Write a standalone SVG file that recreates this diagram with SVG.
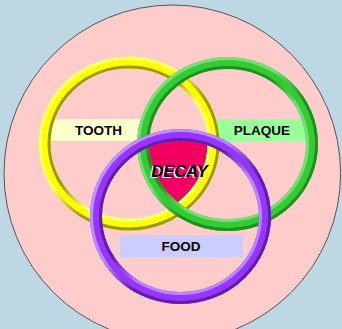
<svg xmlns="http://www.w3.org/2000/svg" width="342" height="329" viewBox="0 0 342 329">
<style>
.lbl{font-family:"Liberation Sans",Arial,sans-serif;font-weight:bold;font-size:13.5px;fill:#000;text-anchor:middle}
.decay{font-family:"Liberation Sans",Arial,sans-serif;font-weight:bold;font-style:italic;font-size:16.5px;text-anchor:middle}
.band{fill:none}
</style>
<defs>
<linearGradient id="yOut" x1="0" y1="0" x2="1" y2="1"><stop offset="0" stop-color="#FFFF80"/><stop offset="0.42" stop-color="#FFFF66"/><stop offset="0.58" stop-color="#999900"/><stop offset="1" stop-color="#999900"/></linearGradient>
<linearGradient id="yIn" x1="0" y1="0" x2="1" y2="1"><stop offset="0" stop-color="#999900"/><stop offset="0.42" stop-color="#999900"/><stop offset="0.58" stop-color="#FFFF80"/><stop offset="1" stop-color="#FFFF80"/></linearGradient>
<linearGradient id="gOut" x1="0" y1="0" x2="1" y2="1"><stop offset="0" stop-color="#80DD80"/><stop offset="0.42" stop-color="#77DD77"/><stop offset="0.58" stop-color="#1F8F1F"/><stop offset="1" stop-color="#1F8F1F"/></linearGradient>
<linearGradient id="gIn" x1="0" y1="0" x2="1" y2="1"><stop offset="0" stop-color="#1F8F1F"/><stop offset="0.42" stop-color="#1F8F1F"/><stop offset="0.58" stop-color="#77DD77"/><stop offset="1" stop-color="#77DD77"/></linearGradient>
<linearGradient id="pOut" x1="0" y1="0" x2="1" y2="1"><stop offset="0" stop-color="#C299FF"/><stop offset="0.42" stop-color="#B888FF"/><stop offset="0.58" stop-color="#5F1FAA"/><stop offset="1" stop-color="#5F1FAA"/></linearGradient>
<linearGradient id="pIn" x1="0" y1="0" x2="1" y2="1"><stop offset="0" stop-color="#5F1FAA"/><stop offset="0.42" stop-color="#5F1FAA"/><stop offset="0.58" stop-color="#B888FF"/><stop offset="1" stop-color="#B888FF"/></linearGradient>
<clipPath id="cY"><ellipse cx="129" cy="143.5" rx="84.5" ry="81"/></clipPath>
<clipPath id="cG"><ellipse cx="227.5" cy="144" rx="84.5" ry="81"/></clipPath>
</defs>
<rect width="342" height="329" fill="#BDD7E3"/>
<g id="outer">
<circle cx="172.3" cy="173.3" r="168.3" fill="#FFCCCC" stroke="#555" stroke-width="1"/>
</g>
<g id="decay-region" clip-path="url(#cG)">
<ellipse clip-path="url(#cY)" cx="180.5" cy="216.5" rx="84.5" ry="81.5" fill="#F00060"/>
</g>
<g id="tooth-box"><rect x="45" y="119" width="105" height="22" fill="#FFFFCC"/></g>
<g id="plaque-box"><rect x="210" y="119" width="102" height="22" fill="#99FF99"/></g>
<g id="food-box"><rect x="120" y="235" width="123" height="22" fill="#CCCCFF"/></g>
<g id="tooth">
<ellipse class="band" cx="129" cy="143.5" rx="84.5" ry="81" stroke="#FFFF00" stroke-width="12"/>
<ellipse class="band" cx="129" cy="143.5" rx="89" ry="85.5" stroke="url(#yOut)" stroke-width="3"/>
<ellipse class="band" cx="129" cy="143.5" rx="80" ry="76.5" stroke="url(#yIn)" stroke-width="3"/>
<text class="lbl" x="98.5" y="135">TOOTH</text>
</g>
<g id="plaque">
<ellipse class="band" cx="227.5" cy="144" rx="84.5" ry="81" stroke="#33CC33" stroke-width="12"/>
<ellipse class="band" cx="227.5" cy="144" rx="89" ry="85.5" stroke="url(#gOut)" stroke-width="3"/>
<ellipse class="band" cx="227.5" cy="144" rx="80" ry="76.5" stroke="url(#gIn)" stroke-width="3"/>
<text class="lbl" x="262" y="135">PLAQUE</text>
</g>
<g id="food">
<ellipse class="band" cx="180.5" cy="216.5" rx="84.5" ry="81.5" stroke="#9933FF" stroke-width="12"/>
<ellipse class="band" cx="180.5" cy="216.5" rx="89" ry="86" stroke="url(#pOut)" stroke-width="3"/>
<ellipse class="band" cx="180.5" cy="216.5" rx="80" ry="77" stroke="url(#pIn)" stroke-width="3"/>
<text class="lbl" x="181" y="251">FOOD</text>
</g>
<g id="decay">
<text class="decay" x="178" y="178" fill="#FFFFFF">DECAY</text>
<text class="decay" x="179.5" y="176.5" fill="#000000">DECAY</text>
</g>
<g id="connectors"/>
</svg>
